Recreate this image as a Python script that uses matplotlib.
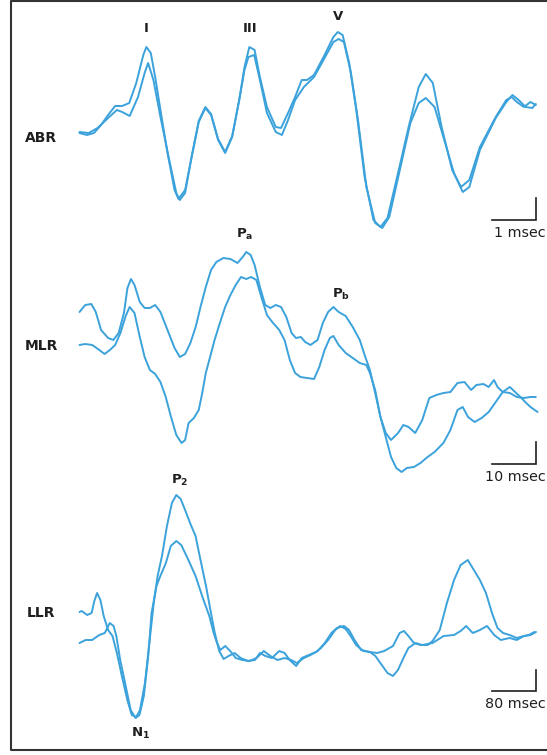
import matplotlib.pyplot as plt
from matplotlib.lines import Line2D

plt.rcParams['font.family'] = 'DejaVu Sans'
plt.rcParams['mathtext.fontset'] = 'dejavusans'

# ---- ABR: time in msec, amplitude in arbitrary units ----
abr_t1 = [0.00, 0.17, 0.33, 0.49, 0.65, 0.81, 0.97, 1.13, 1.29, 1.45,
          1.52, 1.62, 1.72, 1.84, 2.00, 2.16, 2.25, 2.40, 2.55, 2.71,
          2.86, 2.99, 3.15, 3.31, 3.47, 3.63, 3.75, 3.86, 3.98, 4.10,
          4.26, 4.46, 4.58, 4.74, 4.90, 5.05, 5.17, 5.33, 5.57, 5.77,
          5.87, 5.98, 6.13, 6.29, 6.48, 6.68, 6.84, 7.00, 7.24, 7.48,
          7.71, 7.87, 8.03, 8.23, 8.47, 8.67, 8.86, 9.10, 9.46, 9.70,
          9.82, 9.94, 10.10, 10.25, 10.37]
abr_a1 = [0.5, 0.3, 0.5, 1.3, 2.3, 3.2, 3.2, 3.5, 5.5, 8.3,
          9.1, 8.5, 6.1, 2.8, -1.5, -5.2, -6.1, -5.2, -1.9, 1.6,
          3.0, 2.3, -0.2, -1.5, 0.1, 3.8, 7.1, 9.1, 8.8, 6.1,
          3.1, 1.1, 1.0, 2.5, 4.1, 5.8, 5.8, 6.3, 8.3, 10.1,
          10.6, 10.3, 7.5, 2.8, -3.9, -8.2, -8.9, -8.0, -3.5, 1.1,
          5.1, 6.4, 5.5, 1.1, -3.2, -4.9, -4.2, -0.9, 2.1, 3.8,
          4.1, 3.6, 3.1, 3.6, 3.3]
abr_t2 = [0.00, 0.21, 0.41, 0.65, 0.85, 0.97, 1.14, 1.33, 1.48, 1.56,
          1.68, 1.84, 2.04, 2.20, 2.28, 2.40, 2.55, 2.71, 2.86, 2.99,
          3.15, 3.31, 3.47, 3.63, 3.75, 3.84, 3.97, 4.10, 4.26, 4.46,
          4.60, 4.74, 4.90, 5.10, 5.33, 5.57, 5.77, 5.89, 6.01, 6.17,
          6.33, 6.52, 6.72, 6.88, 7.04, 7.28, 7.52, 7.71, 7.87, 8.07,
          8.31, 8.51, 8.71, 8.86, 9.10, 9.46, 9.70, 9.84, 9.98, 10.14,
          10.29, 10.37]
abr_a2 = [0.6, 0.5, 1.0, 2.0, 2.8, 2.6, 2.2, 4.1, 6.5, 7.5,
          5.8, 2.1, -2.2, -5.5, -6.2, -5.5, -1.8, 1.7, 3.1, 2.4,
          -0.1, -1.4, 0.2, 3.8, 6.8, 8.1, 8.3, 5.8, 2.5, 0.6,
          0.3, 1.8, 3.8, 5.1, 6.1, 8.0, 9.6, 9.9, 9.6, 6.5,
          1.8, -4.9, -8.5, -9.0, -7.9, -3.2, 1.5, 3.5, 4.0, 3.1,
          -0.5, -3.5, -5.4, -4.9, -1.2, 2.0, 3.6, 4.3, 3.8, 3.1,
          3.0, 3.4]

# ---- MLR ----
mlr_t1 = [0, 1.3, 2.7, 3.7, 4.9, 6.5, 7.7, 8.9, 10.1, 10.9,
          11.7, 12.5, 13.7, 14.8, 16.0, 17.2, 18.4, 20.0, 21.6, 22.8,
          24.0, 25.2, 26.4, 27.5, 28.7, 29.9, 31.1, 32.7, 34.3, 35.9,
          37.1, 37.9, 38.9, 39.8, 41.0, 42.2, 43.4, 44.6, 45.8, 47.0,
          48.2, 49.2, 50.3, 51.3, 52.5, 54.1, 55.3, 56.5, 57.7, 58.9,
          60.5, 62.1, 63.7, 64.8, 66.0, 67.2, 68.4, 69.6, 70.8, 72.4,
          73.6, 74.8, 76.3, 77.9, 79.5, 81.1, 82.7, 84.3, 85.9, 87.5,
          89.0, 90.2, 91.8, 93.0, 94.2, 95.0, 96.2, 97.8, 99.4, 101.0,
          102.5, 103.7]
mlr_a1 = [3.4, 4.1, 4.2, 3.4, 1.6, 0.8, 0.6, 1.3, 3.3, 5.8,
          6.7, 6.1, 4.4, 3.8, 3.8, 4.1, 3.4, 1.6, -0.2, -1.1,
          -0.8, 0.3, 1.9, 3.9, 5.9, 7.6, 8.4, 8.8, 8.7, 8.3,
          8.9, 9.4, 9.1, 8.1, 5.9, 4.1, 3.8, 4.1, 3.9, 2.9,
          1.3, 0.8, 0.9, 0.4, 0.1, 0.6, 2.3, 3.4, 3.9, 3.4,
          3.0, 1.9, 0.6, -0.9, -2.4, -4.7, -7.1, -8.7, -9.4, -8.7,
          -7.9, -8.1, -8.7, -7.4, -5.2, -4.9, -4.7, -4.6, -3.7, -3.6,
          -4.4, -3.9, -3.8, -4.1, -3.4, -4.1, -4.6, -4.7, -5.1, -5.2,
          -5.1, -5.1]
mlr_t2 = [0, 1.3, 2.9, 4.5, 5.7, 6.9, 8.1, 9.3, 10.5, 11.4,
          12.5, 13.7, 14.8, 16.0, 17.2, 18.4, 19.6, 20.8, 22.0, 23.2,
          24.0, 24.8, 26.0, 27.1, 27.9, 28.7, 29.5, 30.7, 31.9, 33.1,
          34.3, 35.5, 36.7, 37.9, 39.0, 40.2, 41.4, 42.6, 43.8, 45.4,
          46.6, 47.8, 49.0, 50.2, 51.7, 53.3, 54.5, 55.7, 56.9, 57.7,
          58.9, 60.5, 62.1, 63.7, 65.2, 66.0, 67.2, 68.4, 69.6, 70.8,
          72.0, 73.2, 74.4, 76.0, 77.5, 79.1, 80.7, 82.7, 84.3, 85.9,
          87.1, 88.3, 89.8, 91.4, 93.0, 94.6, 96.2, 97.8, 99.0, 100.2,
          101.3, 102.5, 104.1]
mlr_a2 = [0.1, 0.2, 0.1, -0.4, -0.8, -0.4, 0.1, 1.3, 3.0, 3.9,
          3.3, 0.9, -1.1, -2.4, -2.8, -3.6, -5.1, -7.1, -8.9, -9.7,
          -9.4, -7.7, -7.2, -6.4, -4.7, -2.7, -1.4, 0.6, 2.3, 3.9,
          5.1, 6.1, 6.9, 6.7, 6.9, 6.6, 4.8, 3.1, 2.4, 1.6,
          0.6, -1.4, -2.7, -3.1, -3.2, -3.3, -2.1, -0.4, 0.8, 1.0,
          0.1, -0.7, -1.2, -1.7, -1.9, -2.7, -4.4, -7.1, -9.1, -11.1,
          -12.2, -12.6, -12.2, -12.1, -11.7, -11.1, -10.6, -9.7, -8.4, -6.4,
          -6.1, -7.1, -7.6, -7.2, -6.6, -5.6, -4.6, -4.1, -4.6, -5.1,
          -5.6, -6.1, -6.6]

# ---- LLR ----
llr_t1 = [0, 4, 14, 22, 27, 32, 38, 44, 52, 60,
          68, 77, 87, 95, 103, 110, 119, 127, 135, 142,
          150, 159, 168, 176, 184, 192, 201, 211, 220, 230,
          239, 246, 254, 262, 271, 282, 293, 306, 319, 328,
          338, 350, 363, 373, 382, 394, 404, 417, 430, 439,
          452, 465, 474, 484, 493, 503, 516, 528, 541, 554,
          570, 582, 590, 598, 608, 620, 633, 642, 655, 668,
          681, 693, 706, 717, 728, 739, 750, 760, 770, 782,
          795, 808, 817, 827]
llr_a1 = [0.1, 0.2, -0.2, 0.0, 1.2, 2.0, 1.3, -0.3, -1.7, -2.3,
          -4.0, -6.3, -8.7, -10.2, -10.4, -9.7, -7.0, -3.0, 1.0, 3.7,
          5.7, 8.7, 11.0, 11.8, 11.4, 10.3, 9.0, 7.7, 5.3, 2.7,
          0.0, -2.0, -3.8, -4.6, -4.3, -4.0, -4.5, -4.8, -4.7, -4.0,
          -4.3, -4.5, -3.8, -4.0, -4.7, -5.3, -4.5, -4.2, -3.9, -3.5,
          -2.7, -1.7, -1.3, -1.6, -2.3, -3.2, -3.8, -3.9, -4.0, -3.8,
          -3.3, -2.0, -1.8, -2.3, -3.0, -3.2, -3.2, -2.8, -1.7, 1.0,
          3.3, 4.8, 5.3, 4.3, 3.3, 2.0, 0.0, -1.5, -2.0, -2.2,
          -2.5, -2.3, -2.2, -1.9]
llr_t2 = [0, 11, 23, 36, 46, 55, 62, 67, 74, 84,
          93, 102, 109, 117, 125, 131, 140, 147, 157, 166,
          176, 185, 198, 211, 223, 236, 244, 250, 256, 265,
          274, 284, 296, 309, 322, 335, 347, 360, 373, 385,
          395, 408, 420, 433, 446, 458, 468, 481, 490, 500,
          512, 528, 538, 547, 560, 570, 579, 589, 598, 611,
          623, 642, 662, 681, 693, 703, 715, 728, 741, 754,
          766, 782, 795, 808, 820, 830]
llr_a2 = [-3.0, -2.7, -2.7, -2.2, -2.0, -1.0, -1.3, -2.3, -4.7, -7.3,
          -9.7, -10.5, -10.2, -8.3, -4.3, 0.0, 2.7, 3.7, 5.0, 6.7,
          7.2, 6.8, 5.3, 3.7, 1.7, -0.3, -2.0, -3.0, -3.7, -3.3,
          -3.8, -4.5, -4.7, -4.8, -4.5, -3.8, -4.3, -4.7, -4.5, -4.7,
          -5.0, -4.5, -4.2, -3.8, -3.0, -2.0, -1.5, -1.3, -1.7, -2.7,
          -3.7, -3.9, -4.3, -5.0, -6.0, -6.3, -5.7, -4.5, -3.5, -3.0,
          -3.2, -3.0, -2.3, -2.2, -1.8, -1.3, -2.0, -1.7, -1.3, -2.2,
          -2.7, -2.5, -2.7, -2.3, -2.2, -1.9]

panel_names = ['ABR', 'MLR', 'LLR']
scale_len = [1, 10, 80]          # msec
scale_text = ['1 msec', '10 msec', '80 msec']
scale_amp = [2.2, 2.2, 2.1]

W, H = 547, 755
TRACE = '#3ba2db'
INK = '#1f1f1f'

fig = plt.figure(figsize=(W / 100, H / 100), dpi=100)


def panel(x0, y0, sx, sy):
    # full-figure axes; data origin sits at pixel (x0, y0), sx/sy pixels per unit
    ax = fig.add_axes([0, 0, 1, 1])
    ax.set_xlim(-x0 / sx, (W - x0) / sx)
    ax.set_ylim((y0 - H) / sy, y0 / sy)
    ax.axis('off')
    return ax


def px(x, y):
    return x / W, 1 - y / H


# pixel layout of each panel: origin y, pixels per msec, scale bar corner y
layout = [(138, 44.0, 220), (346, 4.4, 464), (613, 0.55, 691)]
traces = [((abr_t1, abr_a1), (abr_t2, abr_a2)),
          ((mlr_t1, mlr_a1), (mlr_t2, mlr_a2)),
          ((llr_t1, llr_a1), (llr_t2, llr_a2))]
x0 = 79.5
bar_x = 536

for i, (y0, sx, bar_y) in enumerate(layout):
    ax = panel(x0, y0, sx, 10.0)
    for t, a in traces[i]:
        ax.plot(t, a, color=TRACE, lw=1.4, solid_joinstyle='round',
                solid_capstyle='round')
    xc = (bar_x - x0) / sx
    yc = (y0 - bar_y) / 10.0
    ax.plot([xc - scale_len[i], xc, xc], [yc, yc, yc + scale_amp[i]],
            color=INK, lw=1.2, solid_joinstyle='miter')
    fig.text(*px(546, bar_y + 13), scale_text[i], ha='right', va='center',
             fontsize=10.3, color=INK)
    fig.text(*px(41, y0), panel_names[i], ha='center', va='center',
             fontsize=10, fontweight='bold', color=INK)

# component labels
peaks = [('I', 146, 29), ('III', 250, 29), ('V', 338, 16),
         (r'$\mathbf{P_a}$', 245, 234), (r'$\mathbf{P_b}$', 341, 294),
         (r'$\mathbf{P_2}$', 180, 480), (r'$\mathbf{N_1}$', 141, 733)]
for lab, x, y in peaks:
    fig.text(*px(x, y), lab, ha='center', va='center', fontsize=9.5,
             fontweight='bold', color=INK)

# frame, open on the right like the clipped original
fx, ftop, fbot = 10.5, 1.0, 749.5
fig.add_artist(Line2D([1, fx / W, fx / W, 1],
                      [1 - ftop / H, 1 - ftop / H, 1 - fbot / H, 1 - fbot / H],
                      transform=fig.transFigure, color='#333333', lw=1.5))

fig.savefig('out.png', dpi=100)
